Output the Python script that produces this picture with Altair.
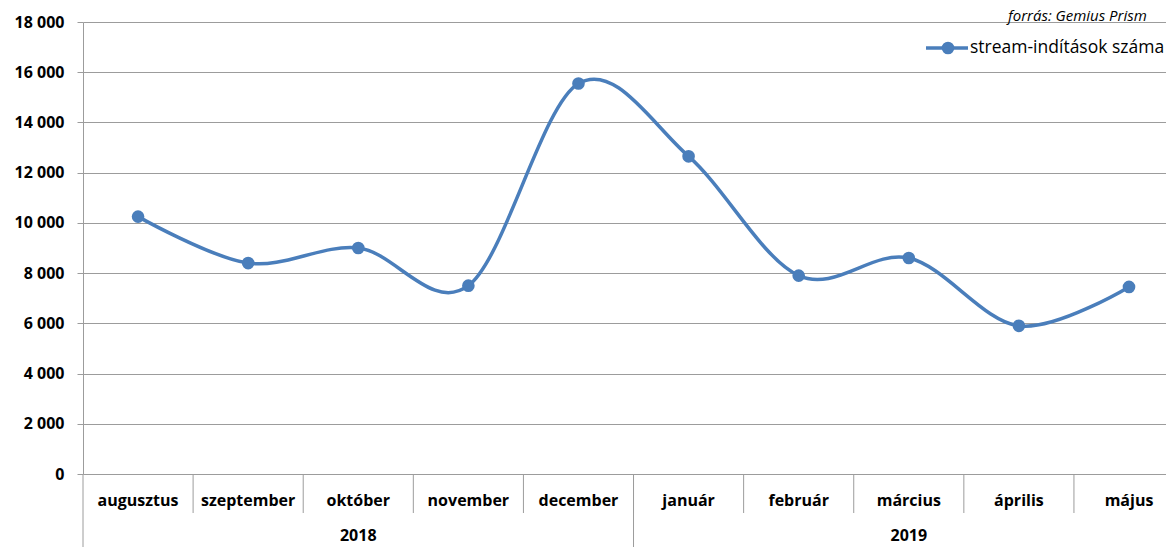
import altair as alt
import pandas as pd

# ---- data ----
months = ["augusztus", "szeptember", "október", "november", "december",
          "január", "február", "március", "április", "május"]
values = [10250, 8400, 9000, 7500, 15550, 12650, 7900, 8600, 5900, 7450]
year_labels = ["2018", "2019"]
year_center_index = [2, 7]
year_boundaries = [-0.5, 4.5, 9.5]
series_name = "stream-indítások száma"
source_text = "forrás: Gemius Prism"
y_ticks = [0, 2000, 4000, 6000, 8000, 10000, 12000, 14000, 16000, 18000]

# ---- styles ----
BLUE = "#4a7ebb"
GRID = "#9c9c9c"
FONT = "Open Sans"
W, H = 1083, 452

df = pd.DataFrame({"i": list(range(len(months))), "month": months, "value": values})
sep_df = pd.DataFrame({"b": [i - 0.5 for i in range(1, len(months))]})
ysep_df = pd.DataFrame({"b": year_boundaries})
year_df = pd.DataFrame({"year": year_labels, "c": year_center_index})
leg_df = pd.DataFrame({"name": [series_name]})
src_df = pd.DataFrame({"t": [source_text]})

xscale = alt.Scale(domain=[-0.5, 9.336], nice=False, zero=False)
yscale = alt.Scale(domain=[0, 18000], nice=False)

X = alt.X("i:Q", scale=xscale, axis=None)
Y = alt.Y(
    "value:Q", scale=yscale,
    axis=alt.Axis(
        values=y_ticks,
        labelExpr="replace(format(datum.value, ','), ',', ' ')",
        grid=True, gridColor=GRID, gridWidth=1,
        domainColor=GRID, tickColor=GRID, tickSize=6,
        labelPadding=13, labelFont=FONT, labelFontWeight="bold",
        labelFontSize=16, labelColor="black", title=None,
    ),
)

line = alt.Chart(df).mark_line(
    interpolate="cardinal", tension=0, color=BLUE, strokeWidth=3.5
).encode(x=X, y=Y)

points = alt.Chart(df).mark_point(
    filled=True, shape="circle", size=160, color=BLUE, opacity=1
).encode(x=X, y=alt.Y("value:Q", scale=yscale))

month_sep = alt.Chart(sep_df).mark_rule(color=GRID, strokeWidth=1).encode(
    x=alt.X("b:Q", scale=xscale), y=alt.value(H), y2=alt.value(H + 39)
)
year_sep = alt.Chart(ysep_df).mark_rule(color=GRID, strokeWidth=1).encode(
    x=alt.X("b:Q", scale=xscale), y=alt.value(H), y2=alt.value(H + 73)
)

month_text = alt.Chart(df).mark_text(
    font=FONT, fontWeight="bold", fontSize=16, baseline="middle", color="black"
).encode(x=alt.X("i:Q", scale=xscale), y=alt.value(H + 27), text="month:N")

year_text = alt.Chart(year_df).mark_text(
    font=FONT, fontWeight="bold", fontSize=16, baseline="middle", color="black"
).encode(x=alt.X("c:Q", scale=xscale), y=alt.value(H + 62), text="year:N")

leg_line = alt.Chart(leg_df).mark_rule(color=BLUE, strokeWidth=3.5).encode(
    x=alt.value(843), x2=alt.value(885), y=alt.value(26)
)
leg_dot = alt.Chart(leg_df).mark_point(
    filled=True, shape="circle", size=160, color=BLUE, opacity=1
).encode(x=alt.value(865), y=alt.value(26))
leg_text = alt.Chart(leg_df).mark_text(
    font=FONT, fontSize=17.5, align="left", baseline="middle", color="black"
).encode(x=alt.value(887), y=alt.value(26), text="name:N")

src = alt.Chart(src_df).mark_text(
    font=FONT, fontSize=15, fontStyle="italic", align="left",
    baseline="alphabetic", color="black"
).encode(x=alt.value(925), y=alt.value(-1), text="t:N")

chart = alt.layer(
    line, points, month_sep, year_sep, month_text, year_text,
    leg_line, leg_dot, leg_text, src
).properties(
    width=W, height=H,
    padding={"left": 75, "top": 14, "right": 0, "bottom": 73},
    autosize=alt.AutoSizeParams(type="none"),
).configure_view(stroke=None)

chart.save("out.html", embed_options={"renderer": "svg", "actions": False})
